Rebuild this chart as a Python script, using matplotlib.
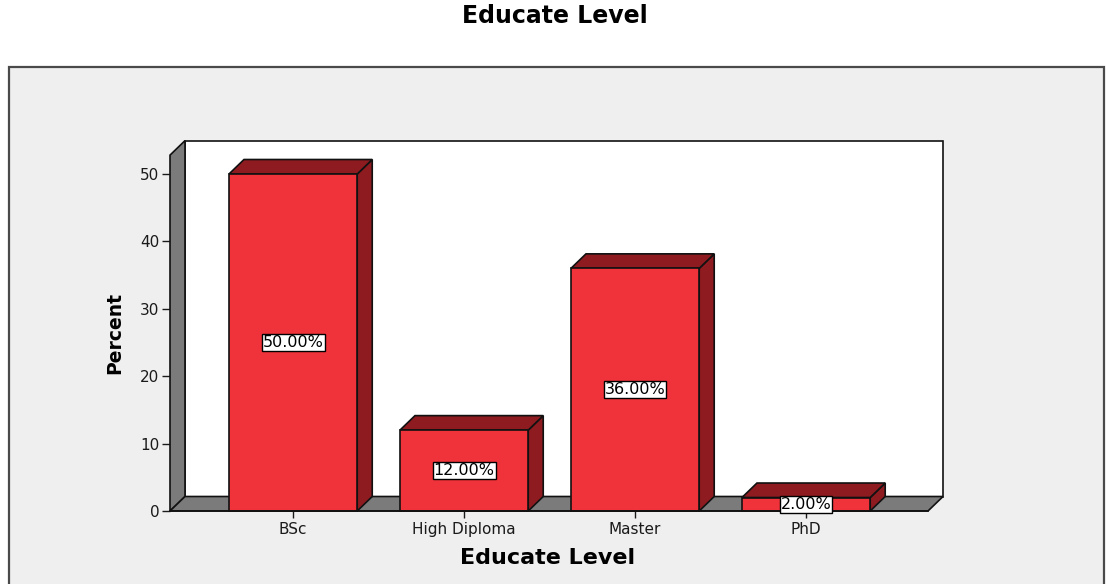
import matplotlib
matplotlib.use("Agg")
import matplotlib.pyplot as plt
from matplotlib.patches import Polygon, Rectangle

# Education level distribution (percent)
levels = ["BSc", "High Diploma", "Master", "PhD"]
percents = [50.0, 12.0, 36.0, 2.0]
yticks = [0, 10, 20, 30, 40, 50]

W, H = 1106, 584
fig = plt.figure(figsize=(W / 100, H / 100), dpi=100)
fig.patch.set_facecolor("white")

# outer grey chart frame
fig.patches.append(Rectangle((9 / W, -0.05), 1095 / W, 1.05 - 67 / H,
                             transform=fig.transFigure, facecolor="#efefef",
                             edgecolor="#4a4a4a", linewidth=1.6, zorder=-5))

ax_left, ax_bottom, ax_w, ax_h = 170, 73, 758, 337
ax = fig.add_axes([ax_left / W, ax_bottom / H, ax_w / W, ax_h / H])
ax.set_zorder(2)
ax.set_facecolor("none")
x0, x1 = -0.72, 3.713
ax.set_xlim(x0, x1)
ax.set_ylim(0, 50)

# depth of the 3D effect, in pixels -> data units
depth = 15
ddx = depth * (x1 - x0) / ax_w
ddy = 14.5 * 50 / ax_h
wall_top = 52.8

edge = "#111111"
grey = "#7b7b7b"
red = "#f0323a"
dark_red = "#8e1b20"

def poly(pts, fc, z):
    ax.add_patch(Polygon(pts, closed=True, facecolor=fc, edgecolor=edge,
                         linewidth=1.2, zorder=z, clip_on=False))

# back wall, left wall, floor
poly([(x0 + ddx, ddy), (x1 + ddx, ddy), (x1 + ddx, wall_top + ddy),
      (x0 + ddx, wall_top + ddy)], "white", 1)
poly([(x0, 0), (x0, wall_top), (x0 + ddx, wall_top + ddy), (x0 + ddx, ddy)], grey, 2)
poly([(x0, 0), (x1, 0), (x1 + ddx, ddy), (x0 + ddx, ddy)], grey, 2)

bw = 0.75
for i, v in enumerate(percents):
    l, r = i - bw / 2, i + bw / 2
    poly([(l, 0), (r, 0), (r, v), (l, v)], red, 4)
    poly([(r, 0), (r + ddx, ddy), (r + ddx, v + ddy), (r, v)], dark_red, 3)
    poly([(l, v), (r, v), (r + ddx, v + ddy), (l + ddx, v + ddy)], dark_red, 3)
    ax.text(i, v / 2, f"{v:.2f}%", ha="center", va="center", fontsize=11.5,
            zorder=6, bbox=dict(boxstyle="square,pad=0.06", facecolor="white",
                                edgecolor="black", linewidth=1.0))

for s in ["top", "right", "left", "bottom"]:
    ax.spines[s].set_visible(False)
ax.plot([x0, x1], [0, 0], color=edge, linewidth=1.2, zorder=5, clip_on=False)

ax.set_yticks(yticks)
ax.set_xticks(range(len(levels)))
ax.set_xticklabels(levels)
ax.tick_params(axis="y", length=8 * 0.72, width=1, pad=2, labelsize=11, colors="#1a1a1a")
ax.tick_params(axis="x", length=7 * 0.72, width=1, pad=3, labelsize=11, colors="#1a1a1a")

fig.text(555 / W, 1 - 16 / H, "Educate Level", ha="center", va="center",
         fontsize=17, fontweight="bold")
fig.text(548 / W, 1 - 558 / H, "Educate Level", ha="center", va="center",
         fontsize=16, fontweight="bold")
fig.text(115 / W, 1 - 333 / H, "Percent", ha="center", va="center",
         fontsize=13.5, fontweight="bold", rotation=90)

fig.savefig("out.png", dpi=100)
